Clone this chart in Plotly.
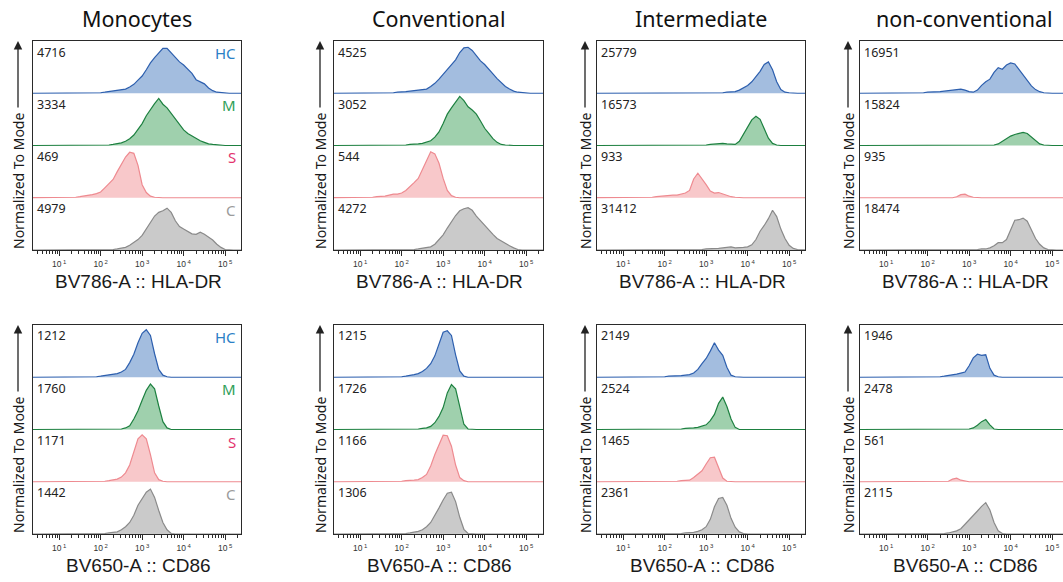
import plotly.graph_objects as go

# ---------------- data ----------------
# sampling grid (log10 of fluorescence intensity), 0.3 .. 5.5 step 0.1
log_grid = [round(0.3 + 0.1 * i, 1) for i in range(53)]
x_vals = [10 ** v for v in log_grid]

groups = ["HC", "M", "S", "C"]
titles = ["Monocytes", "Conventional", "Intermediate", "non-conventional"]
markers = ["BV786-A :: HLA-DR", "BV650-A :: CD86"]
tick_vals = [10, 100, 1000, 10000, 100000]
tick_text = ["10<sup> 1</sup>", "10<sup> 2</sup>", "10<sup> 3</sup>", "10<sup> 4</sup>", "10<sup> 5</sup>"]

# event counts shown in each stripe
counts_hla = [[4716, 3334, 469, 4979], [4525, 3052, 544, 4272],
              [25779, 16573, 933, 31412], [16951, 15824, 935, 18474]]
counts_cd86 = [[1212, 1760, 1171, 1442], [1215, 1726, 1166, 1306],
               [2149, 2524, 1465, 2361], [1946, 2478, 561, 2115]]

# histogram heights (% of stripe) on log_grid; rows: 0.3-0.9 | 1.x | 2.x | 3.x | 4.x | 5.0-5.5
mono_hla_hc = [0,0,0,0,0,0,0, 0,0,0,0,0,0,0,0,0,1, 1,2,3,5,6,7,8,12,17,25, 33,45,58,68,76,86,86,77,67,60, 54,46,38,26,22,18,10,5,2,1, 0,0,0,0,0,0]
mono_hla_m  = [0,0,0,0,0,0,0, 0,0,0,0,0,0,0,0,0,0, 0,0,1,2,3,5,8,13,20,30, 42,57,69,80,90,79,72,61,51,40, 30,23,18,13,9,6,3,2,1,0, 0,0,0,0,0,0]
mono_hla_s  = [0,0,0,0,0,0,0, 0,0,0,1,1,2,3,4,6,8, 11,19,28,35,50,64,78,87,85,62, 25,10,3,1,0,0,0,0,0,0, 0,0,0,0,0,0,0,0,0,0, 0,0,0,0,0,0]
mono_hla_c  = [0,0,0,0,0,0,0, 0,0,0,0,0,0,0,0,0,0, 0,0,1,1,2,3,5,9,14,20, 28,40,53,65,72,75,80,72,56,45, 40,36,31,30,34,30,25,19,11,5, 1,0,0,0,0,0]

conv_hla_hc = [0,0,0,0,0,0,0, 0,0,0,0,0,0,0,0,1,2, 2,3,4,5,5,6,8,13,19,27, 36,44,55,64,78,87,88,82,72,62, 55,47,37,28,20,13,8,4,2,1, 0,0,0,0,0,0]
conv_hla_m  = [0,0,0,0,0,0,0, 0,0,0,0,0,0,0,0,0,0, 1,1,2,2,3,4,6,9,16,26, 42,60,72,83,94,86,74,68,60,47, 33,23,13,6,2,1,0,0,0,0, 0,0,0,0,0,0]
conv_hla_s  = [0,0,0,0,0,0,0, 1,1,1,1,2,2,3,5,7,7, 9,14,21,29,37,54,68,88,84,66, 37,14,4,1,0,0,0,0,0,0, 0,0,0,0,0,0,0,0,0,0, 0,0,0,0,0,0]
conv_hla_c  = [0,0,0,0,0,0,0, 0,0,0,0,0,0,0,0,0,0, 0,1,1,1,2,3,4,6,11,19, 29,42,55,66,75,79,81,76,65,56, 46,38,30,22,17,13,8,4,1,0, 0,0,0,0,0,0]

int_hla_hc  = [0,0,0,0,0,0,0, 0,0,0,0,0,0,0,0,0,0, 0,0,0,0,1,1,1,1,1,1, 1,1,1,1,1,2,2,3,6,11, 15,22,31,42,55,60,45,22,7,2, 1,0,0,0,0,0]
int_hla_m   = [0,0,0,0,0,0,0, 0,0,0,0,0,0,0,0,0,0, 0,0,0,0,0,0,1,1,1,1, 1,2,3,3,4,3,2,2,8,21, 36,49,56,50,32,14,4,1,0,0, 0,0,0,0,0,0]
int_hla_s   = [0,0,0,0,0,0,0, 0,0,0,0,0,0,1,1,2,3, 3,4,5,5,7,9,14,36,47,37, 25,13,9,10,7,4,2,1,0,0, 0,0,0,0,0,0,0,0,0,0, 0,0,0,0,0,0]
int_hla_c   = [0,0,0,0,0,0,0, 0,0,0,0,0,0,0,0,0,0, 0,0,0,0,0,0,0,1,1,1, 2,2,2,3,4,5,6,4,4,5, 6,10,20,36,47,60,76,64,40,22, 9,3,1,0,0,0]

nc_hla_hc   = [0,0,0,0,0,0,0, 0,0,0,0,0,0,1,1,1,1, 2,2,3,3,4,5,5,6,8,6, 3,2,6,15,22,27,40,49,46,54, 58,56,46,34,24,14,7,3,1,0, 0,0,0,0,0,0]
nc_hla_m    = [0,0,0,0,0,0,0, 0,0,0,0,0,0,0,0,0,0, 0,0,0,0,0,0,0,0,0,0, 0,0,0,0,0,1,1,3,8,13, 18,21,23,25,23,16,9,3,1,0, 0,0,0,0,0,0]
nc_hla_s    = [0,0,0,0,0,0,0, 0,0,0,0,0,0,0,0,0,0, 0,0,0,0,0,0,0,2,6,7, 3,1,0,0,0,0,0,0,0,0, 0,0,0,0,0,0,0,0,0,0, 0,0,0,0,0,0]
nc_hla_c    = [0,0,0,0,0,0,0, 0,0,0,0,0,0,0,0,0,0, 0,0,0,0,0,0,0,0,0,1, 1,1,1,2,2,4,8,14,14,20, 40,57,58,61,55,38,22,11,4,1, 0,0,0,0,0,0]

mono_cd86_hc = [0,0,0,0,0,0,0, 0,0,0,0,0,0,0,1,1,1, 2,3,4,6,7,10,15,28,44,66, 84,91,80,45,15,4,1,0,0,0, 0,0,0,0,0,0,0,0,0,0, 0,0,0,0,0,0]
mono_cd86_m  = [0,0,0,0,0,0,0, 0,0,0,0,0,0,0,0,0,0, 0,0,0,0,1,1,3,7,20,36, 56,75,87,78,45,15,3,0,0,0, 0,0,0,0,0,0,0,0,0,0, 0,0,0,0,0,0]
mono_cd86_s  = [0,0,0,0,0,0,0, 0,0,0,0,0,0,0,0,0,0, 1,1,2,3,5,9,17,32,55,82, 90,82,52,17,4,1,0,0,0,0, 0,0,0,0,0,0,0,0,0,0, 0,0,0,0,0,0]
mono_cd86_c  = [0,0,0,0,0,0,0, 0,0,0,0,0,0,0,0,0,0, 1,1,2,3,4,8,14,22,36,55, 67,80,86,70,45,22,8,1,0,0, 0,0,0,0,0,0,0,0,0,0, 0,0,0,0,0,0]

conv_cd86_hc = [0,0,0,0,0,0,0, 0,0,0,0,0,0,0,0,1,1, 1,2,3,5,7,11,17,26,41,62, 86,89,80,43,12,2,0,0,0,0, 0,0,0,0,0,0,0,0,0,0, 0,0,0,0,0,0]
conv_cd86_m  = [0,0,0,0,0,0,0, 0,0,0,0,0,0,0,0,0,0, 0,0,0,1,1,2,3,6,13,25, 42,70,86,78,42,10,1,0,0,0, 0,0,0,0,0,0,0,0,0,0, 0,0,0,0,0,0]
conv_cd86_s  = [0,0,0,0,0,0,0, 0,0,0,0,0,0,0,0,0,1, 1,2,2,3,4,8,14,30,52,71, 89,88,68,32,8,2,0,0,0,0, 0,0,0,0,0,0,0,0,0,0, 0,0,0,0,0,0]
conv_cd86_c  = [0,0,0,0,0,0,0, 0,0,0,0,0,0,0,0,0,0, 1,1,2,3,5,8,14,22,35,50, 65,78,80,62,32,9,1,0,0,0, 0,0,0,0,0,0,0,0,0,0, 0,0,0,0,0,0]

int_cd86_hc  = [0,0,0,0,0,0,0, 0,0,0,0,0,0,0,0,1,1, 1,2,2,3,3,4,5,8,15,26, 36,50,66,52,42,19,4,1,0,0, 0,0,0,0,0,0,0,0,0,0, 0,0,0,0,0,0]
int_cd86_m   = [0,0,0,0,0,0,0, 0,0,0,0,0,0,0,0,0,0, 0,1,1,1,1,2,2,3,4,6, 9,17,29,50,62,44,20,4,0,0, 0,0,0,0,0,0,0,0,0,0, 0,0,0,0,0,0]
int_cd86_s   = [0,0,0,0,0,0,0, 0,0,0,0,0,0,0,0,0,0, 0,1,1,1,2,2,3,8,14,21, 34,46,47,26,7,1,0,0,0,0, 0,0,0,0,0,0,0,0,0,0, 0,0,0,0,0,0]
int_cd86_c   = [0,0,0,0,0,0,0, 0,0,0,0,0,0,0,0,0,0, 0,0,1,1,1,2,2,3,5,8, 14,28,52,68,70,55,30,13,4,1, 0,0,0,0,0,0,0,0,0,0, 0,0,0,0,0,0]

nc_cd86_hc   = [0,0,0,0,0,0,0, 0,0,0,0,0,0,0,0,0,0, 0,1,1,1,2,3,4,6,8,10, 22,37,44,42,43,17,4,1,0,0, 0,0,0,0,0,0,0,0,0,0, 0,0,0,0,0,0]
nc_cd86_m    = [0,0,0,0,0,0,0, 0,0,0,0,0,0,0,0,0,0, 0,0,0,0,0,0,0,0,0,0, 1,3,8,15,19,9,1,0,0,0, 0,0,0,0,0,0,0,0,0,0, 0,0,0,0,0,0]
nc_cd86_s    = [0,0,0,0,0,0,0, 0,0,0,0,0,0,0,0,0,0, 0,0,0,0,0,1,5,7,3,1, 0,0,0,0,0,0,0,0,0,0, 0,0,0,0,0,0,0,0,0,0, 0,0,0,0,0,0]
nc_cd86_c    = [0,0,0,0,0,0,0, 0,0,0,0,0,0,0,0,0,0, 0,0,0,1,1,2,4,6,10,18, 27,36,44,53,60,46,22,6,1,0, 0,0,0,0,0,0,0,0,0,0, 0,0,0,0,0,0]

panels_hla = [
    [mono_hla_hc, mono_hla_m, mono_hla_s, mono_hla_c],
    [conv_hla_hc, conv_hla_m, conv_hla_s, conv_hla_c],
    [int_hla_hc, int_hla_m, int_hla_s, int_hla_c],
    [nc_hla_hc, nc_hla_m, nc_hla_s, nc_hla_c],
]
panels_cd86 = [
    [mono_cd86_hc, mono_cd86_m, mono_cd86_s, mono_cd86_c],
    [conv_cd86_hc, conv_cd86_m, conv_cd86_s, conv_cd86_c],
    [int_cd86_hc, int_cd86_m, int_cd86_s, int_cd86_c],
    [nc_cd86_hc, nc_cd86_m, nc_cd86_s, nc_cd86_c],
]

# ---------------- style / layout ----------------
W, H = 1063, 582
line_colors = ["#2d5fae", "#1d8040", "#ee8a90", "#8a8a8a"]
fill_colors = ["#a3bddf", "#9fd0ad", "#f8c8ca", "#cacaca"]
label_colors = ["#2b80c6", "#2e9e58", "#e3336e", "#9b9b9b"]
cols_px = [(33, 241), (334, 543), (597, 805), (860, 1068)]
rows_px = [(41, 250), (325, 534)]
ylab_px = [18, 320, 585, 848]
PX_PER_DEC = 41.5
LOG_LEFT = 0.37
TEXT_FONT = "Noto Sans"
AX_FONT = "Liberation Sans"

minor_vals = [m * 10 ** d for d in range(0, 6) for m in range(2, 10)]

fig = go.Figure()
annotations = []
layout_axes = {}


def px2x(px):
    return px / W


def px2y(py):
    return 1 - py / H


idx = 0
for r, (panels, counts) in enumerate([(panels_hla, counts_hla), (panels_cd86, counts_cd86)]):
    top, bot = rows_px[r]
    stripe = (bot - top) / 4.0
    for c in range(4):
        idx += 1
        xa = "x" if idx == 1 else f"x{idx}"
        ya = "y" if idx == 1 else f"y{idx}"
        left, right = cols_px[c]
        vis_right = min(right, W)
        log_right = LOG_LEFT + (vis_right - left) / PX_PER_DEC
        for g in range(4):
            base = 3 - g
            vals = panels[c][g]
            fig.add_trace(go.Scatter(x=x_vals, y=[base] * len(x_vals), mode="lines",
                                     line=dict(width=0, color="rgba(0,0,0,0)"),
                                     xaxis=xa, yaxis=ya, hoverinfo="skip", showlegend=False))
            fig.add_trace(go.Scatter(x=x_vals, y=[base + v / 100.0 for v in vals], mode="lines",
                                     line=dict(width=1.2, color=line_colors[g]),
                                     fill="tonexty", fillcolor=fill_colors[g],
                                     xaxis=xa, yaxis=ya, showlegend=False,
                                     name=f"{titles[c]} {groups[g]}"))
            # counts label
            annotations.append(dict(x=px2x(left + 2), y=px2y(top + g * stripe + 11),
                                    xref="paper", yref="paper", xanchor="left", yanchor="middle",
                                    text=str(counts[c][g]), showarrow=False,
                                    font=dict(family=TEXT_FONT, size=12.5, color="#222")))
            if c == 0:
                annotations.append(dict(x=px2x(right - 3), y=px2y(top + g * stripe + 12),
                                        xref="paper", yref="paper", xanchor="right", yanchor="middle",
                                        text=groups[g], showarrow=False,
                                        font=dict(family=TEXT_FONT, size=15, color=label_colors[g])))
        layout_axes["xaxis" if idx == 1 else f"xaxis{idx}"] = dict(
            type="log", range=[LOG_LEFT, log_right], domain=[px2x(left), px2x(vis_right)],
            anchor=ya, showline=True, linecolor="#2a2a2a", linewidth=1.3, mirror=True,
            ticks="outside", ticklen=5, tickwidth=1.1, tickcolor="#2a2a2a",
            tickmode="array", tickvals=tick_vals, ticktext=tick_text,
            ticklabelstandoff=1,
            tickfont=dict(family=AX_FONT, size=8.5, color="#333"),
            minor=dict(tickmode="array", tickvals=minor_vals, ticks="outside", ticklen=2.5,
                       tickwidth=1, tickcolor="#2a2a2a", showgrid=False),
            showgrid=False, zeroline=False, fixedrange=True)
        layout_axes["yaxis" if idx == 1 else f"yaxis{idx}"] = dict(
            range=[0, 4], domain=[px2y(bot), px2y(top)], anchor=xa,
            showline=True, linecolor="#2a2a2a", linewidth=1.3, mirror=(c != 3),
            showticklabels=False, ticks="", showgrid=False, zeroline=False, fixedrange=True)
        center_px = (left + right) / 2.0
        # x-axis title
        annotations.append(dict(x=px2x(center_px + 1), y=px2y(bot + 31), xref="paper", yref="paper",
                                xanchor="center", yanchor="middle", text=markers[r], showarrow=False,
                                font=dict(family=AX_FONT, size=19, color="#1a1a1a")))
        # y-axis title and arrow
        annotations.append(dict(x=px2x(ylab_px[c]), y=px2y(bot - 69), xref="paper", yref="paper",
                                xanchor="center", yanchor="middle", text="Normalized To Mode",
                                textangle=-90, showarrow=False,
                                font=dict(family=TEXT_FONT, size=14, color="#1a1a1a")))
        annotations.append(dict(x=px2x(ylab_px[c]), y=px2y(top), xref="paper", yref="paper",
                                text="", showarrow=True, ax=0, ay=68, axref="pixel", ayref="pixel",
                                arrowhead=2, arrowsize=1.3, arrowwidth=1.3, arrowcolor="#222"))
        # column titles (top row only)
        if r == 0:
            annotations.append(dict(x=px2x(center_px), y=px2y(18), xref="paper", yref="paper",
                                    xanchor="center", yanchor="middle", text=titles[c],
                                    showarrow=False,
                                    font=dict(family=TEXT_FONT, size=21.5, color="#111")))

fig.update_layout(width=W, height=H, margin=dict(l=0, r=0, t=0, b=0),
                  paper_bgcolor="white", plot_bgcolor="white",
                  showlegend=False, annotations=annotations, **layout_axes)

fig.write_html("out.html", config={"displayModeBar": False},
               post_script="document.body.style.margin='0px';document.body.style.overflow='hidden';")
